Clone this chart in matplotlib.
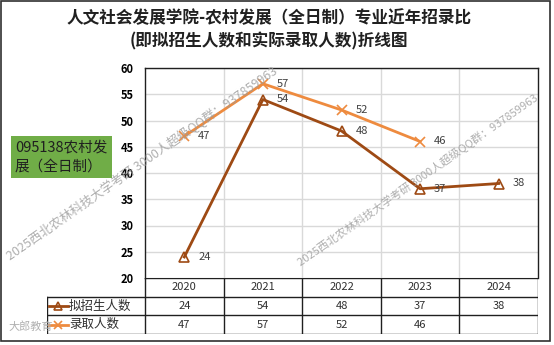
import matplotlib
matplotlib.use("Agg")
import matplotlib.pyplot as plt

plt.rcParams['font.family'] = ['Noto Sans CJK SC', 'DejaVu Sans']

years = ['2020', '2021', '2022', '2023', '2024']
planned = [24, 54, 48, 37, 38]
admitted = [47, 57, 52, 46]
series_names = ['拟招生人数', '录取人数']
title_lines = ['人文社会发展学院-农村发展（全日制）专业近年招录比', '(即拟招生人数和实际录取人数)折线图']
box_text = '095138农村发\n展（全日制）'
yticks = [20, 25, 30, 35, 40, 45, 50, 55, 60]

c_brown = '#9E4A14'
c_orange = '#EE8B3F'

W, H = 554, 345
fig = plt.figure(figsize=(W / 100, H / 100), dpi=100)

def fx(px):
    return px / W

def fy(py):
    return 1 - py / H

# plot area
x0, x1, yt, yb = 145, 538, 68, 278
ax = fig.add_axes([fx(x0), fy(yb), fx(x1) - fx(x0), fy(yt) - fy(yb)])
xs = [i + 0.5 for i in range(len(years))]
ax.set_xlim(0, len(years))
ax.set_ylim(yticks[0], yticks[-1])
ax.set_yticks(yticks)
ax.set_yticklabels([str(t) for t in yticks], fontsize=8, fontweight='bold')
ax.set_xticks(range(1, len(years)))
ax.set_xticklabels([])
ax.tick_params(length=0, pad=8)
ax.grid(True, color='#d9d9d9', lw=1)
ax.set_axisbelow(True)
for s in ['top', 'right', 'left']:
    ax.spines[s].set_color('#202020')
    ax.spines[s].set_linewidth(1)
ax.spines['bottom'].set_visible(False)

ax.plot(xs[:len(planned)], planned, color=c_brown, lw=2, marker='^', ms=7,
        mfc='none', mec=c_brown, mew=1.2, zorder=3)
ax.plot(xs[:len(admitted)], admitted, color=c_orange, lw=2, marker='x', ms=7,
        mec=c_orange, mew=1.2, zorder=3)
for x, v in zip(xs, planned):
    ax.annotate(str(v), (x, v), xytext=(10, 0), textcoords='offset points',
                va='center', ha='left', fontsize=8, color='#404040')
for x, v in zip(xs, admitted):
    ax.annotate(str(v), (x, v), xytext=(10, 0), textcoords='offset points',
                va='center', ha='left', fontsize=8, color='#404040')

# table
tx0 = 47
tb = 334
tax = fig.add_axes([fx(tx0), fy(tb), fx(x1) - fx(tx0), fy(yb) - fy(tb)])
colw = (x1 - x0) / len(years)
lab_w = (x0 - tx0) / colw
tax.set_xlim(-lab_w, len(years))
tax.set_ylim(0, 3)
tax.axis('off')
lc = '#202020'
tax.plot([0, len(years)], [3, 3], color=lc, lw=1)
for yv in [2, 1, 0]:
    tax.plot([-lab_w, len(years)], [yv, yv], color=lc, lw=1)
tax.plot([-lab_w, -lab_w], [0, 2], color=lc, lw=1)
for i in range(len(years) + 1):
    tax.plot([i, i], [0, 3], color=lc, lw=1)
for i, y in enumerate(years):
    tax.text(i + 0.5, 2.5, y, ha='center', va='center', fontsize=8, color='#303030')
rows = [(planned, c_brown, '^', {'mfc': 'none'}), (admitted, c_orange, 'x', {})]
for r, (vals, col, mk, kw) in enumerate(rows):
    yc = 1.5 - r
    tax.plot([-lab_w + 0.02, -lab_w + 0.27], [yc, yc], color=col, lw=2)
    tax.plot([-lab_w + 0.145], [yc], marker=mk, color=col, ms=6, mew=1.2, **kw)
    tax.text(-lab_w + 0.28, yc, series_names[r], ha='left', va='center',
             fontsize=9, color='#303030')
    for i, v in enumerate(vals):
        tax.text(i + 0.5, yc, str(v), ha='center', va='center', fontsize=8, color='#303030')

# titles
fig.text(0.485, fy(18), title_lines[0], ha='center', va='center', fontsize=12,
         fontweight='bold', color='#202020')
fig.text(0.485, fy(41), title_lines[1], ha='center', va='center', fontsize=12,
         fontweight='bold', color='#202020')

# green box
fig.text(fx(15), fy(157), box_text, ha='left', va='center', fontsize=10.5,
         fontweight='medium', color='#202020', linespacing=1.45,
         bbox=dict(boxstyle='square,pad=0.3', fc='#70AD47', ec='none'))

# watermarks
wm = '2025西北农林科技大学考研 3000人超级QQ群：937859963'
fig.text(fx(142), fy(163), wm, ha='center', va='center', rotation=35,
         fontsize=9, color='#9a9a9a', alpha=0.8)
fig.text(fx(418), fy(180), wm, ha='center', va='center', rotation=35,
         fontsize=8, color='#9a9a9a', alpha=0.8)
fig.text(fx(8), fy(327), '大郎教育', ha='left', va='center', fontsize=8, color='#b0b0b0')

# outer border
fig.add_artist(plt.Rectangle((fx(1), fy(341)), fx(550) - fx(1), fy(1) - fy(341),
                             transform=fig.transFigure, fill=False, ec='#303030', lw=1.2))

fig.savefig('out.png', dpi=100)
